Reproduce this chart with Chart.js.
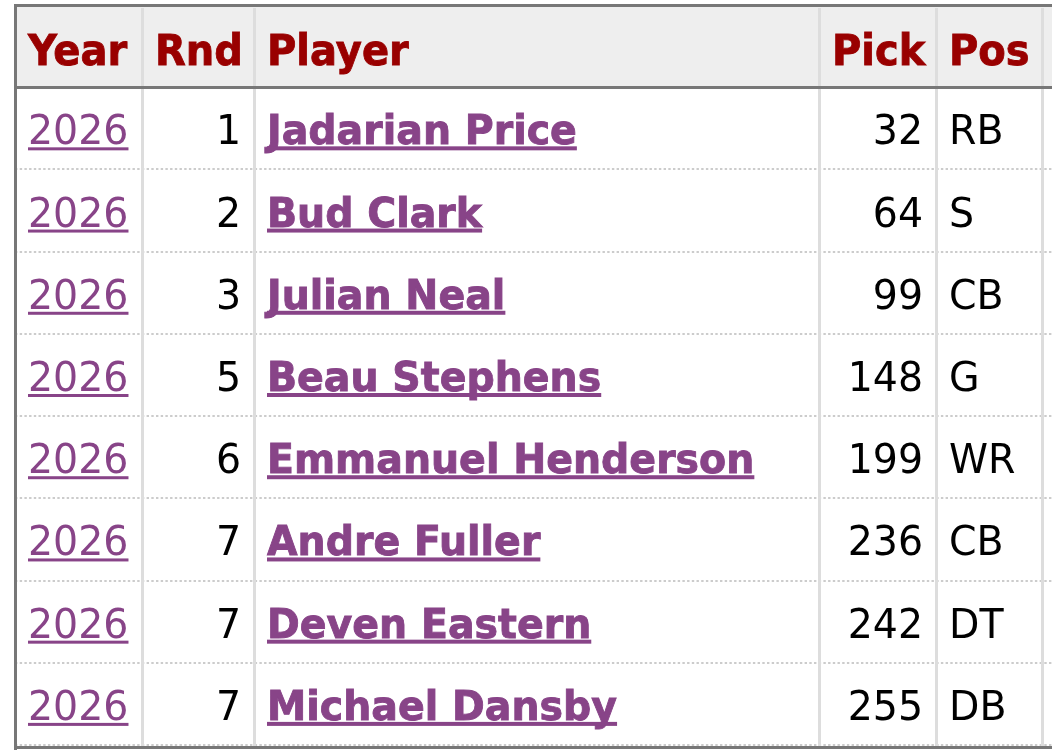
<!DOCTYPE html>
<html lang="en">
<head>
  <meta charset="UTF-8">
  <title>Draft picks</title>
  <script src="https://cdn.jsdelivr.net/npm/chart.js"></script>
  <style>
    html, body { margin: 0; padding: 0; background: #fff; }
    #wrap { width: 1052px; height: 750px; }
  </style>
</head>
<body>
  <div id="wrap"><canvas id="tbl" width="1052" height="750"></canvas></div>

  <script>
    // table data
    const headers = ['Year', 'Rnd', 'Player', 'Pick', 'Pos'];
    const years = ['2026', '2026', '2026', '2026', '2026', '2026', '2026', '2026'];
    const rounds = ['1', '2', '3', '5', '6', '7', '7', '7'];
    const players = ['Jadarian Price', 'Bud Clark', 'Julian Neal', 'Beau Stephens',
      'Emmanuel Henderson', 'Andre Fuller', 'Deven Eastern', 'Michael Dansby'];
    const picks = ['32', '64', '99', '148', '199', '236', '242', '255'];
    const positions = ['RB', 'S', 'CB', 'G', 'WR', 'CB', 'DT', 'DB'];

    // layout: column edges on the x scale, and how each column is aligned
    const colEdges = [15, 142, 254, 819, 936, 1042, 1052];
    const colAlign = ['left', 'right', 'left', 'right', 'left'];
    const pad = 13;

    const rowLabels = ['header'].concat(players);
    const columns = [years, rounds, players, picks, positions];

    const FONT = '"DejaVu Sans", Verdana, sans-serif';
    const LINK = '#884488';

    // DejaVu runs a bit wider than Verdana, so squeeze text slightly
    function drawText(ctx, txt, x, y, align, sx, heavy) {
      const w = ctx.measureText(txt).width * sx;
      ctx.save();
      ctx.translate(x, y);
      ctx.scale(sx, 1);
      ctx.textAlign = align;
      ctx.fillText(txt, 0, 0);
      if (heavy) {
        ctx.strokeStyle = ctx.fillStyle;
        ctx.lineWidth = 0.9;
        ctx.strokeText(txt, 0, 0);
      }
      ctx.restore();
      return w;
    }

    function underline(ctx, x, y, w, align, thick) {
      const x0 = align === 'right' ? x - w : x;
      ctx.fillRect(x0, y, w, thick);
    }

    const tablePlugin = {
      id: 'tablePlugin',
      afterDatasetsDraw(chart) {
        const ctx = chart.ctx;
        const xs = chart.scales.x, ys = chart.scales.y;
        const px = v => xs.getPixelForValue(v);
        const top = chart.chartArea.top, bottom = chart.chartArea.bottom;
        const left = px(colEdges[0]), right = px(colEdges[colEdges.length - 1]);
        const band = (bottom - top) / rowLabels.length;

        ctx.save();
        // dotted row separators
        ctx.strokeStyle = '#cccccc';
        ctx.lineWidth = 2;
        ctx.setLineDash([2.4, 2.3]);
        for (let r = 2; r <= rowLabels.length; r++) {
          const y = Math.round(top + band * r) - 1;
          ctx.beginPath();
          ctx.moveTo(left, y);
          ctx.lineTo(right, y);
          ctx.stroke();
        }
        ctx.setLineDash([]);

        // column separators
        ctx.fillStyle = '#dddddd';
        for (let c = 1; c < colEdges.length - 1; c++) {
          ctx.fillRect(px(colEdges[c]) - 1, top + 2, 3, bottom - top);
        }

        // outer / header borders
        ctx.fillStyle = '#777777';
        ctx.fillRect(left - 1, top - 2, 3, chart.height - top + 2);
        ctx.fillRect(left - 1, top - 2, right - left + 1, 3);
        ctx.fillRect(left - 1, Math.round(top + band) - 2, right - left + 1, 3);
        ctx.fillRect(left - 1, bottom, right - left + 1, 3);

        ctx.textBaseline = 'alphabetic';

        // header row
        const hy = ys.getPixelForValue(0);
        ctx.font = 'bold 43.5px ' + FONT;
        ctx.fillStyle = '#990000';
        headers.forEach((h, c) => {
          drawText(ctx, h, px(colEdges[c]) + pad, hy + 18, 'left', 0.92, true);
        });

        // body rows
        for (let r = 0; r < players.length; r++) {
          const y = ys.getPixelForValue(r + 1) + 15;
          columns.forEach((col, c) => {
            const txt = col[r];
            const align = colAlign[c];
            const x = align === 'left' ? px(colEdges[c]) + pad : px(colEdges[c + 1]) - pad;
            if (c === 0) {
              ctx.font = '41px ' + FONT;
              ctx.fillStyle = LINK;
            } else if (c === 2) {
              ctx.font = 'bold 41px ' + FONT;
              ctx.fillStyle = LINK;
            } else {
              ctx.font = '41px ' + FONT;
              ctx.fillStyle = '#000000';
            }
            const w = drawText(ctx, txt, x, y, align, 0.963, c === 2);
            if (c === 0) underline(ctx, x, y + 3, w, align, 3);
            if (c === 2) underline(ctx, x, y + 2, w, align, 4);
          });
        }
        ctx.restore();
      }
    };

    // header background drawn as a floating bar on the first row
    const headerFill = rowLabels.map((_, i) => i === 0 ? [colEdges[0], colEdges[colEdges.length - 1]] : null);

    new Chart(document.getElementById('tbl'), {
      type: 'bar',
      data: {
        labels: rowLabels,
        datasets: [{
          data: headerFill,
          backgroundColor: '#eeeeee',
          barPercentage: 1,
          categoryPercentage: 1,
          borderWidth: 0
        }]
      },
      options: {
        indexAxis: 'y',
        responsive: false,
        devicePixelRatio: 1,
        animation: false,
        layout: { padding: { top: 6, bottom: 4, left: 0, right: 0 } },
        plugins: { legend: { display: false }, tooltip: { enabled: false } },
        scales: {
          x: { type: 'linear', min: 0, max: 1052, display: false },
          y: { type: 'category', offset: true, display: false }
        }
      },
      plugins: [tablePlugin]
    });
  </script>
</body>
</html>
